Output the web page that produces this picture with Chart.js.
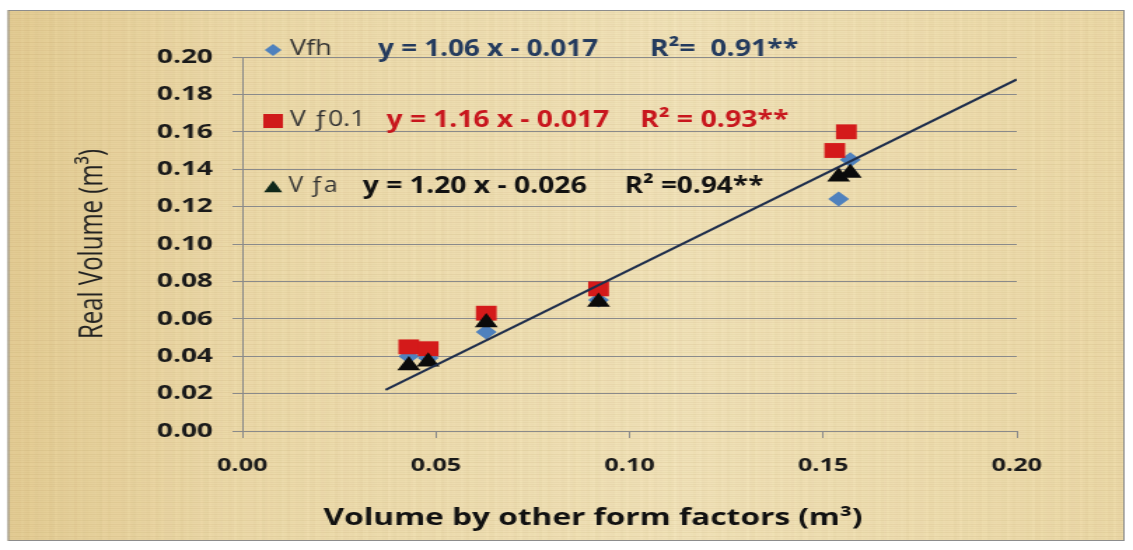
<!DOCTYPE html>
<html>
<head>
<meta charset="utf-8">
<script src="https://cdn.jsdelivr.net/npm/chart.js@4.4.1/dist/chart.umd.min.js"></script>
<style>
  html, body { margin: 0; padding: 0; background: #fff; overflow: hidden; }
  /* the original picture is a chart stretched sideways, so draw narrow and stretch */
  #wrap { width: 809px; height: 550px; transform: scaleX(1.4005); transform-origin: 0 0; }
</style>
</head>
<body>
<div id="wrap"><canvas id="volChart" width="809" height="550"></canvas></div>
<script>
// data (m3)
const xVfh  = [0.043, 0.048, 0.063, 0.092, 0.154, 0.157];
const yVfh  = [0.040, 0.039, 0.053, 0.070, 0.124, 0.145];
const xVf01 = [0.043, 0.048, 0.063, 0.092, 0.153, 0.156];
const yVf01 = [0.045, 0.044, 0.063, 0.076, 0.150, 0.160];
const xVfa  = [0.043, 0.048, 0.063, 0.092, 0.154, 0.157];
const yVfa  = [0.035, 0.037, 0.058, 0.069, 0.136, 0.138];
// fitted line end points
const trendX = [0.037, 0.200];
const trendY = [0.022, 0.188];

const xTickValues = [0, 0.05, 0.10, 0.15, 0.20];
const xTickLabels = ['0.00', '0.05', '0.10', '0.15', '0.20'];
const yTickValues = [0, 0.02, 0.04, 0.06, 0.08, 0.10, 0.12, 0.14, 0.16, 0.18, 0.20];
const yTickLabels = ['0.00', '0.02', '0.04', '0.06', '0.08', '0.10', '0.12', '0.14', '0.16', '0.18', '0.20'];

const seriesNames = ['Vfh', 'V \u01920.1', 'V \u0192a'];
const equations = ['y = 1.06 x - 0.017', 'y = 1.16 x - 0.017', 'y = 1.20 x - 0.026'];
const r2Labels = ['R\u00B2=  0.91**', 'R\u00B2 = 0.93**', 'R\u00B2 =0.94**'];
const xTitle = 'Volume by other form factors (m\u00B3)';
const yTitle = 'Real Volume (m\u00B3)';

const FONT = '"Open Sans", "DejaVu Sans", sans-serif';

function toPoints(xs, ys) {
  return xs.map((x, i) => ({ x: x, y: ys[i] }));
}

// draw text squeezed/stretched into a given width
function fitText(ctx, txt, x0, x1, y, font, color) {
  ctx.save();
  ctx.font = font;
  ctx.fillStyle = color;
  ctx.textBaseline = 'middle';
  ctx.textAlign = 'left';
  const w = ctx.measureText(txt).width;
  ctx.translate(x0, y);
  ctx.scale((x1 - x0) / w, 1);
  ctx.fillText(txt, 0, 0);
  ctx.restore();
}

function marker(ctx, style, x, y, r, color) {
  ctx.save();
  ctx.fillStyle = color;
  ctx.beginPath();
  if (style === 'diamond') {
    ctx.moveTo(x, y - r); ctx.lineTo(x + r, y); ctx.lineTo(x, y + r); ctx.lineTo(x - r, y);
  } else if (style === 'square') {
    ctx.rect(x - r, y - r, 2 * r, 2 * r);
  } else {
    ctx.moveTo(x, y - r); ctx.lineTo(x + r, y + r * 0.8); ctx.lineTo(x - r, y + r * 0.8);
  }
  ctx.closePath();
  ctx.fill();
  ctx.restore();
}

// papyrus background and outer frame
const paperBg = {
  id: 'paperBg',
  beforeDraw(chart) {
    const ctx = chart.ctx;
    const x0 = 5.5, y0 = 10, x1 = 803, y1 = 541;
    ctx.save();
    ctx.fillStyle = '#fff';
    ctx.fillRect(0, 0, chart.width, chart.height);
    const g = ctx.createLinearGradient(x0, 0, x1, 0);
    g.addColorStop(0, '#E5CE96');
    g.addColorStop(0.2, '#EDDBAB');
    g.addColorStop(0.6, '#F2E4BB');
    g.addColorStop(1, '#EDDBAA');
    ctx.fillStyle = g;
    ctx.fillRect(x0, y0, x1 - x0, y1 - y0);
    for (let x = x0; x < x1; x += 2) {
      const a = 0.045 + 0.045 * Math.sin(x * 0.91) * Math.cos(x * 0.17);
      ctx.fillStyle = 'rgba(140,100,35,' + Math.max(a, 0).toFixed(3) + ')';
      ctx.fillRect(x, y0, 1, y1 - y0);
    }
    for (let y = y0; y < y1; y += 2) {
      const a = 0.045 + 0.045 * Math.sin(y * 1.31) * Math.cos(y * 0.23);
      ctx.fillStyle = 'rgba(140,100,35,' + Math.max(a, 0).toFixed(3) + ')';
      ctx.fillRect(x0, y, x1 - x0, 1);
    }
    ctx.strokeStyle = '#8c8c8c';
    ctx.lineWidth = 1;
    ctx.strokeRect(x0 + 0.5, y0 + 0.5, x1 - x0 - 1, y1 - y0 - 1);
    ctx.restore();
  }
};

// equation rows and x axis title
const notes = {
  id: 'notes',
  afterDraw(chart) {
    const ctx = chart.ctx;
    const rows = [
      { y: 49,  mk: 'diamond', mr: 6,   mc: '#4F81BD', lab: [207, 237], eq: [270, 427], r2: [464, 570], col: '#243B5E' },
      { y: 120, mk: 'square',  mr: 7,   mc: '#D01A1A', lab: [207, 261], eq: [276, 435], r2: [457, 563], col: '#C8161D' },
      { y: 186, mk: 'tri',     mr: 6.5, mc: '#10281A', lab: [206, 241], eq: [259, 419], r2: [446, 545], col: '#111111' }
    ];
    rows.forEach((r, i) => {
      marker(ctx, r.mk, 195, r.y + 1, r.mr, r.mc);
      fitText(ctx, seriesNames[i], r.lab[0], r.lab[1], r.y, '21px ' + FONT, '#333');
      fitText(ctx, equations[i], r.eq[0], r.eq[1], r.y, 'bold 23px ' + FONT, r.col);
      fitText(ctx, r2Labels[i], r.r2[0], r.r2[1], r.y, 'bold 23px ' + FONT, r.col);
    });
    fitText(ctx, xTitle, 231, 616, 518, 'bold 23px ' + FONT, '#111');
  }
};

const ctx = document.getElementById('volChart').getContext('2d');
const volChart = new Chart(ctx, {
  type: 'scatter',
  data: {
    datasets: [
      {
        type: 'line',
        label: 'fit',
        data: toPoints(trendX, trendY),
        borderColor: '#1F2E4C',
        borderWidth: 2,
        pointRadius: 0,
        fill: false,
        order: 0
      },
      {
        label: 'Vfa',
        data: toPoints(xVfa, yVfa),
        pointStyle: 'triangle',
        pointRadius: 9.5,
        pointBackgroundColor: '#0B0B0B',
        pointBorderWidth: 0,
        order: 1
      },
      {
        label: 'Vf0.1',
        data: toPoints(xVf01, yVf01),
        pointStyle: 'rect',
        pointRadius: 10.5,
        pointBackgroundColor: '#D41A1A',
        pointBorderWidth: 0,
        order: 2
      },
      {
        label: 'Vfh',
        data: toPoints(xVfh, yVfh),
        pointStyle: 'rectRot',
        pointRadius: 7.5,
        pointBackgroundColor: '#4F81BD',
        pointBorderWidth: 0,
        order: 3
      }
    ]
  },
  options: {
    responsive: false,
    animation: false,
    devicePixelRatio: 1,
    layout: { padding: { left: 6, right: 83, top: 57, bottom: 0 } },
    plugins: {
      legend: { display: false },
      tooltip: { enabled: false }
    },
    scales: {
      x: {
        type: 'linear',
        min: 0,
        max: 0.2,
        afterBuildTicks: (scale) => { scale.ticks = xTickValues.map(v => ({ value: v })); },
        afterFit: (scale) => { scale.height = 119; },
        ticks: {
          callback: (v, i) => xTickLabels[i],
          font: { family: FONT, size: 18, weight: 'bold' },
          color: '#1a1a1a',
          padding: 17,
          maxRotation: 0
        },
        grid: { drawOnChartArea: false, drawTicks: true, tickLength: 7, color: '#8a8a8a' },
        border: { color: '#8a8a8a' }
      },
      y: {
        type: 'linear',
        min: 0,
        max: 0.2,
        afterBuildTicks: (scale) => { scale.ticks = yTickValues.map(v => ({ value: v })); },
        afterFit: (scale) => { scale.width = 167; },
        ticks: {
          callback: (v, i) => yTickLabels[i],
          font: { family: FONT, size: 20, weight: 'bold' },
          color: '#1a1a1a',
          padding: 14
        },
        grid: { drawTicks: true, tickLength: 7, color: '#8a8a8a' },
        border: { color: '#8a8a8a' },
        title: {
          display: true,
          text: yTitle,
          font: { family: FONT, size: 24 },
          color: '#222',
          padding: { top: 46, bottom: 0 }
        }
      }
    }
  },
  plugins: [paperBg, notes]
});
</script>
</body>
</html>
